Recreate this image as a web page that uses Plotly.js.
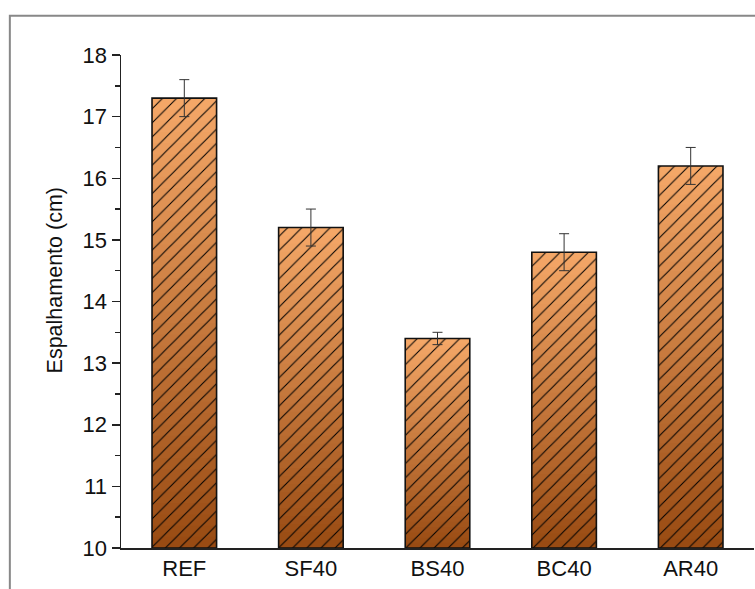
<!DOCTYPE html>
<html>
<head>
<meta charset="utf-8">
<script src="https://cdn.plot.ly/plotly-3.0.1.min.js"></script>
<style>html,body{margin:0;padding:0;background:#fff;}#chart{width:755px;height:589px;}</style>
</head>
<body>
<div id="chart"></div>
<script>
// ---- data ----
const categories = ["REF", "SF40", "BS40", "BC40", "AR40"];
const values = [17.3, 15.2, 13.4, 14.8, 16.2];
const errors = [0.3, 0.3, 0.1, 0.3, 0.3];
const yTickVals = [10, 11, 12, 13, 14, 15, 16, 17, 18];
const yTitle = "Espalhamento (cm)";
const axisMin = 10;

// ---- style ----
const topColor = [245, 168, 104];
const bottomColor = [152, 74, 18];
const nSlices = 40;

function mix(t) {
  // t=0 bottom, t=1 top
  const c = bottomColor.map((b, i) => Math.round(b + (topColor[i] - b) * t));
  return `rgb(${c[0]},${c[1]},${c[2]})`;
}

const traces = [];
// gradient: each slice runs from its own base up to the bar top, later (higher) slices drawn over earlier ones
for (let i = 0; i < nSlices; i++) {
  const t = (i + 0.5) / nSlices;
  const col = mix(t);
  const bases = values.map(v => axisMin + (v - axisMin) * i / nSlices);
  traces.push({
    type: "bar",
    x: categories,
    y: values.map((v, k) => v - bases[k]),
    base: bases,
    marker: {
      color: col,
      line: { width: 0 },
      pattern: { shape: "/", fgcolor: "#000", bgcolor: col, size: 10, solidity: 0.1, fillmode: "replace" }
    },
    hoverinfo: "skip",
    showlegend: false
  });
}
// outline + error bars
traces.push({
  type: "bar",
  x: categories,
  y: values.map(v => v - axisMin),
  base: values.map(() => axisMin),
  marker: { color: "rgba(0,0,0,0)", line: { color: "#111", width: 1.6 } },
  error_y: { type: "data", array: errors, visible: true, color: "#333", thickness: 1, width: 5 },
  showlegend: false
});

const layout = {
  width: 755, height: 589,
  margin: { l: 121, r: 1, t: 55, b: 41 },
  paper_bgcolor: "#fff", plot_bgcolor: "#fff",
  barmode: "overlay",
  bargap: 0.49,
  font: { family: "Liberation Sans, Arial, sans-serif", color: "#111", size: 22 },
  xaxis: {
    type: "category", range: [-0.5, 4.5],
    showline: true, linecolor: "#222", linewidth: 1.5,
    ticks: "", showgrid: false, zeroline: false,
    tickfont: { size: 22, color: "#111" }
  },
  yaxis: {
    range: [10, 18], tickvals: yTickVals,
    showline: true, linecolor: "#222", linewidth: 1.5,
    ticks: "outside", ticklen: 8, tickwidth: 1.5, tickcolor: "#222",
    minor: { dtick: 0.5, ticks: "outside", ticklen: 5, tickwidth: 1.5, tickcolor: "#222" },
    showgrid: false, zeroline: false,
    tickfont: { size: 22, color: "#111" }
  },
  annotations: [{
    text: yTitle, textangle: -90, xref: "paper", yref: "paper",
    x: -0.1028, y: 0.5426, xanchor: "center", yanchor: "middle", showarrow: false,
    font: { size: 21.5, color: "#111" }
  }],
  shapes: [{
    type: "rect", xref: "paper", yref: "paper",
    x0: -0.1756, x1: 1.2, y0: -0.3, y1: 1.0797,
    line: { color: "#888", width: 2 }, fillcolor: "rgba(0,0,0,0)", layer: "below"
  }]
};

Plotly.newPlot("chart", traces, layout, { displayModeBar: false, staticPlot: true });
</script>
</body>
</html>
